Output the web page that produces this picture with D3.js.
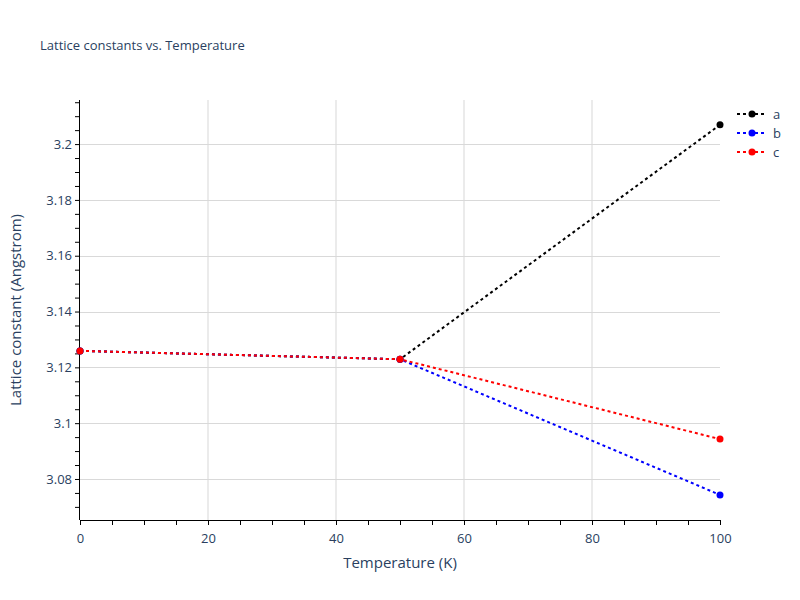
<!DOCTYPE html>
<head>
  <meta charset="utf-8">
  <script src="https://d3js.org/d3.v7.min.js"></script>
  <style>
    body { margin: 0; background: #fff; }
    text { font-family: "Open Sans", Verdana, Arial, sans-serif; fill: #2a3f5f; }
    .grid line.gy { stroke: #d9d9d9; stroke-width: 1px; }
    .grid line.gx { stroke: #ebebeb; stroke-width: 2px; }
    .axis path, .axis line { stroke: #000; }
  </style>
</head>
<body>
  <script>
    // data
    var temps = [0, 50, 100];
    var seriesNames = ['a', 'b', 'c'];
    var aVals = [3.1259, 3.1229, 3.2069];
    var bVals = [3.1259, 3.1229, 3.0743];
    var cVals = [3.1259, 3.1229, 3.0943];
    var colors = ['#000000', '#0000ff', '#ff0000'];
    var xTicks = [0, 20, 40, 60, 80, 100];
    var yTicks = [3.08, 3.1, 3.12, 3.14, 3.16, 3.18, 3.2];

    var series = [aVals, bVals, cVals].map(function(v, i) {
      return { name: seriesNames[i], color: colors[i], values: v.map(function(y, j) { return { x: temps[j], y: y }; }) };
    });

    var width = 800, height = 600;
    var mLeft = 80, mRight = 720, mTop = 100, mBottom = 520;

    var svg = d3.select("body").append("svg")
      .attr("width", width)
      .attr("height", height);

    var x = d3.scaleLinear().domain([0, 100]).range([mLeft, mRight]);
    var y = d3.scaleLinear().domain([3.0653, 3.2158]).range([mBottom, mTop]);

    // gridlines
    var grid = svg.append("g").attr("class", "grid");
    grid.selectAll(".gx")
      .data(xTicks.filter(function(d) { return d > 0 && d < 100; }))
      .enter().append("line")
      .attr("class", "gx")
      .attr("x1", function(d) { return x(d); })
      .attr("x2", function(d) { return x(d); })
      .attr("y1", mTop).attr("y2", mBottom);
    grid.selectAll(".gy")
      .data(yTicks)
      .enter().append("line")
      .attr("class", "gy")
      .attr("x1", mLeft).attr("x2", mRight)
      .attr("y1", function(d) { return Math.round(y(d)) + 0.5; })
      .attr("y2", function(d) { return Math.round(y(d)) + 0.5; });

    // axes with minor ticks
    var xMinor = d3.range(0, 100.001, 5);
    var yMinor = d3.range(3.07, 3.2151, 0.005);

    svg.append("g")
      .attr("class", "axis")
      .attr("transform", "translate(0," + mBottom + ")")
      .call(d3.axisBottom(x).tickValues(xMinor).tickSize(5).tickFormat(""))
      .call(function(g) { g.select(".domain").attr("d", "M" + mLeft + ",0.5H" + mRight); });

    svg.append("g")
      .attr("transform", "translate(0," + mBottom + ")")
      .call(d3.axisBottom(x).tickValues(xTicks).tickSize(0).tickPadding(14))
      .call(function(g) {
        g.select(".domain").remove();
        g.selectAll("text").style("font-size", "13px").attr("fill", "#2a3f5f");
      });

    svg.append("g")
      .attr("class", "axis")
      .attr("transform", "translate(" + mLeft + ",0)")
      .call(d3.axisLeft(y).tickValues(yMinor).tickSize(5).tickFormat(""))
      .call(function(g) { g.select(".domain").attr("d", "M-0.5," + mTop + "V" + mBottom); });

    svg.append("g")
      .attr("transform", "translate(" + mLeft + ",0)")
      .call(d3.axisLeft(y).tickValues(yTicks).tickSize(0).tickPadding(8).tickFormat(d3.format("~g")))
      .call(function(g) {
        g.select(".domain").remove();
        g.selectAll("text").style("font-size", "13px").attr("fill", "#2a3f5f");
      });

    // lines + markers
    var line = d3.line().x(function(d) { return x(d.x); }).y(function(d) { return y(d.y); });

    var plot = svg.append("g");
    series.forEach(function(s) {
      plot.append("path")
        .datum(s.values)
        .attr("d", line)
        .attr("fill", "none")
        .attr("stroke", s.color)
        .attr("stroke-width", 2)
        .attr("stroke-dasharray", "3,3");
    });
    series.forEach(function(s) {
      plot.selectAll(null)
        .data(s.values)
        .enter().append("circle")
        .attr("cx", function(d) { return x(d.x); })
        .attr("cy", function(d) { return y(d.y); })
        .attr("r", 3.5)
        .attr("fill", s.color);
    });

    // legend
    var legend = svg.append("g").selectAll("g")
      .data(series)
      .enter().append("g")
      .attr("transform", function(d, i) { return "translate(737," + (114 + i * 19) + ")"; });
    legend.append("line")
      .attr("x1", 0).attr("x2", 30)
      .attr("stroke", function(d) { return d.color; })
      .attr("stroke-width", 2)
      .attr("stroke-dasharray", "3,3");
    legend.append("circle")
      .attr("cx", 15).attr("r", 3.5)
      .attr("fill", function(d) { return d.color; });
    legend.append("text")
      .attr("x", 36).attr("dy", "0.35em")
      .style("font-size", "13px")
      .text(function(d) { return d.name; });

    // titles
    svg.append("text")
      .attr("x", 40).attr("y", 50)
      .style("font-size", "13px")
      .text("Lattice constants vs. Temperature");

    svg.append("text")
      .attr("x", (mLeft + mRight) / 2).attr("y", 568)
      .attr("text-anchor", "middle")
      .style("font-size", "15px")
      .text("Temperature (K)");

    svg.append("text")
      .attr("transform", "translate(21," + ((mTop + mBottom) / 2) + ") rotate(-90)")
      .attr("text-anchor", "middle")
      .style("font-size", "15px")
      .text("Lattice constant (Angstrom)");
  </script>
</body>
